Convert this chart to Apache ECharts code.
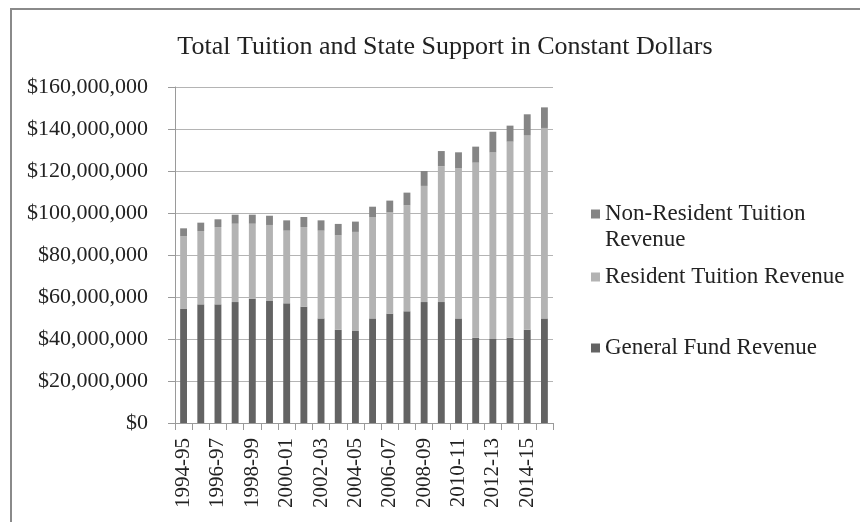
<!DOCTYPE html>
<html>
<head>
<meta charset="utf-8">
<script src="https://cdn.jsdelivr.net/npm/echarts@6/dist/echarts.min.js"></script>
<style>
  html, body { margin: 0; padding: 0; background: #fff; }
  #chart { width: 860px; height: 522px; }
</style>
</head>
<body>
<div id="chart"></div>
<script>
// Academic years shown on the category axis
const years = ['1994-95', '1995-96', '1996-97', '1997-98', '1998-99', '1999-00', '2000-01', '2001-02',
  '2002-03', '2003-04', '2004-05', '2005-06', '2006-07', '2007-08', '2008-09', '2009-10',
  '2010-11', '2011-12', '2012-13', '2013-14', '2014-15', '2015-16'];

// Revenue by source, in constant dollars
const generalFund = [54300000, 56500000, 56500000, 57600000, 59200000, 58100000, 57000000, 55400000,
  49800000, 44400000, 43800000, 49800000, 52100000, 53200000, 57600000, 57600000,
  49800000, 40600000, 40000000, 40600000, 44400000, 49800000];
const residentTuition = [34600000, 34900000, 36800000, 37300000, 35700000, 36200000, 34600000, 37900000,
  41800000, 45000000, 47200000, 48300000, 48200000, 50500000, 55300000, 64600000,
  71500000, 83400000, 88900000, 93400000, 92700000, 90700000];
const nonResidentTuition = [3800000, 4000000, 3700000, 4300000, 4300000, 4400000, 4900000, 4800000,
  4900000, 5400000, 4900000, 4900000, 5600000, 6000000, 7100000, 7300000,
  7600000, 7600000, 9800000, 7600000, 9900000, 9800000];

// Value axis range
const yMin = 0;
const yMax = 160000000;
const yStep = 20000000;

const FONT = 'Liberation Serif';
const TEXT = '#222222';

const chart = echarts.init(document.getElementById('chart'), null, { renderer: 'canvas' });

function legendBlock(name, label, top) {
  return {
    data: [name],
    orient: 'vertical',
    left: 591,
    top: top,
    padding: 0,
    itemWidth: 9,
    itemHeight: 9,
    icon: 'rect',
    selectedMode: false,
    formatter: () => label,
    textStyle: { fontFamily: FONT, fontSize: 23, color: TEXT, lineHeight: 26 }
  };
}

chart.setOption({
  animation: false,
  backgroundColor: '#fff',
  title: {
    text: 'Total Tuition and State Support in Constant Dollars',
    left: 440,
    textAlign: 'center',
    top: 29,
    textStyle: { fontFamily: FONT, fontSize: 26, fontWeight: 'normal', color: TEXT }
  },
  legend: [
    legendBlock('Non-Resident Tuition Revenue', ' \nNon-Resident Tuition\nRevenue', 175),
    legendBlock('Resident Tuition Revenue', 'Resident Tuition Revenue', 264),
    legendBlock('General Fund Revenue', 'General Fund Revenue', 335)
  ],
  grid: { left: 175, right: 307, top: 87, bottom: 99, containLabel: false },
  xAxis: {
    type: 'category',
    data: years,
    axisLine: { lineStyle: { color: '#9a9a9a', width: 1 } },
    axisTick: { show: true, interval: 0, length: 7, alignWithLabel: false, lineStyle: { color: '#9a9a9a' } },
    axisLabel: {
      interval: 1,
      rotate: 90,
      margin: 15,
      fontFamily: FONT,
      fontSize: 21,
      color: TEXT
    }
  },
  yAxis: {
    type: 'value',
    min: yMin,
    max: yMax,
    interval: yStep,
    axisLine: { show: true, lineStyle: { color: '#9a9a9a', width: 1 } },
    axisTick: { show: true, length: 7, lineStyle: { color: '#9a9a9a' } },
    splitLine: { show: true, lineStyle: { color: '#b4b4b4', width: 1 } },
    axisLabel: {
      margin: 27,
      fontFamily: FONT,
      fontSize: 22,
      color: TEXT,
      formatter: v => '$' + v.toLocaleString('en-US')
    }
  },
  series: [
    {
      name: 'General Fund Revenue',
      type: 'bar',
      stack: 'total',
      barWidth: '40%',
      data: generalFund,
      itemStyle: { color: '#636363' }
    },
    {
      name: 'Resident Tuition Revenue',
      type: 'bar',
      stack: 'total',
      data: residentTuition,
      itemStyle: { color: '#b3b3b3' }
    },
    {
      name: 'Non-Resident Tuition Revenue',
      type: 'bar',
      stack: 'total',
      data: nonResidentTuition,
      itemStyle: { color: '#858585' }
    }
  ],
  graphic: [
    // frame around the chart area
    { type: 'line', shape: { x1: 10, y1: 9, x2: 860, y2: 9 }, style: { stroke: '#8a8a8a', lineWidth: 2 }, silent: true },
    { type: 'line', shape: { x1: 11, y1: 8, x2: 11, y2: 522 }, style: { stroke: '#8a8a8a', lineWidth: 2 }, silent: true }
  ]
});
</script>
</body>
</html>
